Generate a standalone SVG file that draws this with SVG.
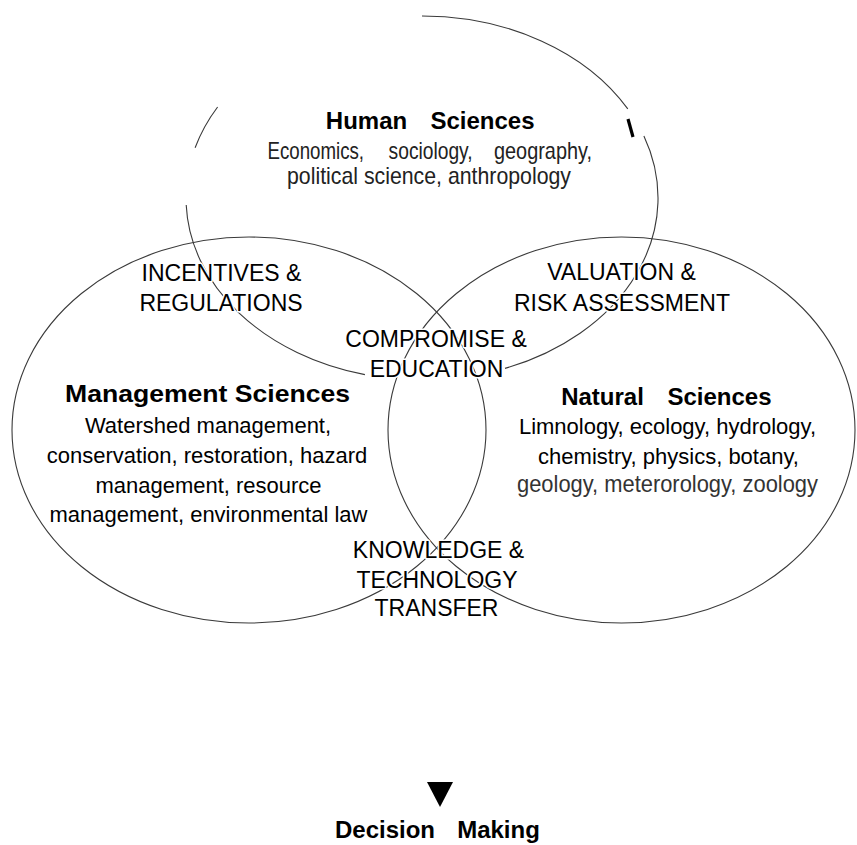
<svg xmlns="http://www.w3.org/2000/svg" width="857" height="845" viewBox="0 0 857 845">
<style>
  .ring { fill: none; stroke: #3a3a3a; stroke-width: 1.1; }
  .t { font-family: "Liberation Sans", Arial, sans-serif; fill: #000; text-anchor: middle; paint-order: stroke; stroke: #fff; stroke-width: 3; stroke-linejoin: round; }
  .title { font-size: 24px; font-weight: bold; }
  .body { font-size: 22px; }
  .cond { font-size: 24px; fill: #222; }
  .lab { font-size: 23px; }
</style>
<rect x="0" y="0" width="857" height="845" fill="#fff"/>

<g id="node-management">
  <ellipse class="ring" cx="249" cy="430" rx="237" ry="193"/>
</g>
<g id="node-natural">
  <ellipse class="ring" cx="621.5" cy="430" rx="233.5" ry="193"/>
</g>
<g id="node-human">
  <path class="ring" d="M 422 16 A 236 182 0 0 1 627.8 108.9"/>
  <line x1="628" y1="119" x2="633" y2="137" stroke="#000" stroke-width="3.2"/>
  <path class="ring" d="M 643.9 136 A 236 182 0 0 1 505 368.4"/>
  <path class="ring" d="M 364.9 374.6 A 236 182 0 0 1 186.2 205"/>
  <path class="ring" d="M 195.1 147.8 A 236 182 0 0 1 217.6 107"/>
</g>

<g id="label-human">
  <text class="t title" x="366.5" y="129">Human</text>
  <text class="t title" x="482.5" y="129">Sciences</text>
  <text class="t cond" x="267.5" y="158.5" style="text-anchor:start" textLength="96.5" lengthAdjust="spacingAndGlyphs">Economics,</text>
  <text class="t cond" x="388.6" y="158.5" style="text-anchor:start" textLength="84" lengthAdjust="spacingAndGlyphs">sociology,</text>
  <text class="t cond" x="494" y="158.5" style="text-anchor:start" textLength="98" lengthAdjust="spacingAndGlyphs">geography,</text>
  <text class="t cond" x="287" y="184" style="text-anchor:start" textLength="284" lengthAdjust="spacingAndGlyphs">political science, anthropology</text>
</g>

<g id="label-management">
  <text class="t title" x="65" y="402" style="text-anchor:start" textLength="285" lengthAdjust="spacingAndGlyphs">Management Sciences</text>
  <text class="t body" x="208" y="433">Watershed management,</text>
  <text class="t body" x="207" y="463">conservation, restoration, hazard</text>
  <text class="t body" x="208.5" y="493">management, resource</text>
  <text class="t body" x="208.5" y="522">management, environmental law</text>
</g>

<g id="label-natural">
  <text class="t title" x="602.5" y="405">Natural</text>
  <text class="t title" x="719.5" y="405">Sciences</text>
  <text class="t body" x="667.5" y="434">Limnology, ecology, hydrology,</text>
  <text class="t body" x="668.5" y="464">chemistry, physics, botany,</text>
  <text class="t cond" x="517" y="492" style="text-anchor:start;fill:#333" textLength="301" lengthAdjust="spacingAndGlyphs">geology, meterorology, zoology</text>
</g>

<g id="overlap-incentives">
  <text class="t lab" x="221.5" y="281">INCENTIVES &amp;</text>
  <text class="t lab" x="221" y="311">REGULATIONS</text>
</g>
<g id="overlap-valuation">
  <text class="t lab" x="621.5" y="280">VALUATION &amp;</text>
  <text class="t lab" x="622" y="311">RISK ASSESSMENT</text>
</g>
<g id="overlap-compromise">
  <text class="t lab" x="436" y="347">COMPROMISE &amp;</text>
  <text class="t lab" x="436.5" y="377">EDUCATION</text>
</g>
<g id="overlap-knowledge">
  <text class="t lab" x="438.5" y="558">KNOWLEDGE &amp;</text>
  <text class="t lab" x="437" y="588">TECHNOLOGY</text>
  <text class="t lab" x="436.5" y="616">TRANSFER</text>
</g>

<g id="connectors">
  <polygon points="427,782 453,782 440,807" fill="#000"/>
</g>

<g id="node-decision">
  <text class="t title" x="385" y="838">Decision</text>
  <text class="t title" x="498.5" y="838">Making</text>
</g>
</svg>
